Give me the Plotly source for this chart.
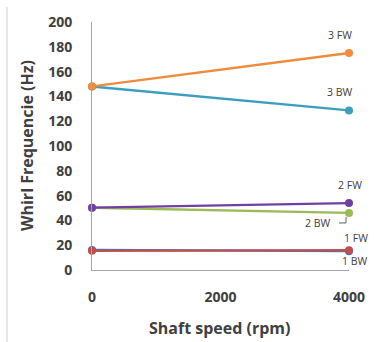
import plotly.graph_objects as go

# Campbell diagram: whirl frequencies vs shaft speed
speed = [0, 4000]
mode_names = ["1 BW", "1 FW", "2 BW", "2 FW", "3 BW", "3 FW"]
f_1bw = [16.2, 15.2]
f_1fw = [15.5, 16.0]
f_2bw = [50.2, 46.0]
f_2fw = [50.3, 54.0]
f_3bw = [148, 128.7]
f_3fw = [148, 175]
y_ticks = [0, 20, 40, 60, 80, 100, 120, 140, 160, 180, 200]
x_ticks = [0, 2000, 4000]

series = [f_1bw, f_1fw, f_2bw, f_2fw, f_3bw, f_3fw]
colors = ["#4472C4", "#C0504D", "#9BBB59", "#7040A0", "#3A9EBE", "#F08A3C"]

W, H = 380, 342
L, R, T, B = 92, 31, 22, 72
pw, ph = W - L - R, H - T - B

FONT = "Open Sans, Lato, sans-serif"

fig = go.Figure()
for name, vals, col in zip(mode_names, series, colors):
    fig.add_trace(go.Scatter(
        x=speed, y=vals, name=name, mode="lines+markers",
        line=dict(color=col, width=2.3),
        marker=dict(color=col, size=8),
        cliponaxis=False,
    ))

label_font = dict(family=FONT, size=10.5, color="#404040")
# (series index, xshift, yshift)
label_pos = [(0, 6, -10), (1, 7, 12), (2, -31, -10), (3, 1, 18), (4, -9, 18), (5, -9, 18)]
annotations = []
for idx, dx, dy in label_pos:
    annotations.append(dict(
        x=speed[-1], y=series[idx][-1], xref="x", yref="y",
        text=mode_names[idx], showarrow=False, font=label_font,
        xshift=dx, yshift=dy, xanchor="center", yanchor="middle",
    ))

title_font = dict(family=FONT, size=16, color="#404040")
annotations.append(dict(
    x=(220 - L) / pw, y=-(328 - T - ph) / ph, xref="paper", yref="paper",
    text="<b>Shaft speed (rpm)</b>", showarrow=False, font=title_font,
    xanchor="center", yanchor="middle",
))
annotations.append(dict(
    x=(27 - L) / pw, y=(T + ph - 146) / ph, xref="paper", yref="paper",
    text="<b>Whirl Frequencie (Hz)</b>", showarrow=False, font=title_font,
    textangle=-90, xanchor="center", yanchor="middle",
))

shapes = [
    # elbow leader from the "2 BW" label to its marker
    dict(type="path", xref="x", yref="y", xsizemode="pixel", ysizemode="pixel",
         xanchor=speed[-1], yanchor=f_2bw[-1],
         path="M -10 -10 L -3 -10 L -3 -4",
         line=dict(color="#606060", width=1)),
    # left border of the chart area
    dict(type="line", xref="paper", yref="paper",
         x0=(7 - L) / pw, x1=(7 - L) / pw,
         y0=(T + ph - 7) / ph, y1=(T + ph - H) / ph,
         line=dict(color="#D0D0D0", width=1)),
]

tick_font = dict(family=FONT, size=14, color="#404040", weight="bold")

fig.update_layout(
    width=W, height=H,
    margin=dict(l=L, r=R, t=T, b=B),
    paper_bgcolor="white", plot_bgcolor="white",
    showlegend=False,
    annotations=annotations,
    shapes=shapes,
    xaxis=dict(range=[0, 4000], tickvals=x_ticks, showgrid=False, zeroline=False,
               showline=True, linecolor="#A6A6A6", linewidth=1,
               ticks="", tickfont=tick_font, ticklabelstandoff=14),
    yaxis=dict(range=[0, 200], tickvals=y_ticks, showgrid=False, zeroline=False,
               showline=True, linecolor="#A6A6A6", linewidth=1,
               ticks="", tickfont=tick_font, ticklabelstandoff=16),
)

fig.write_html("out.html")
